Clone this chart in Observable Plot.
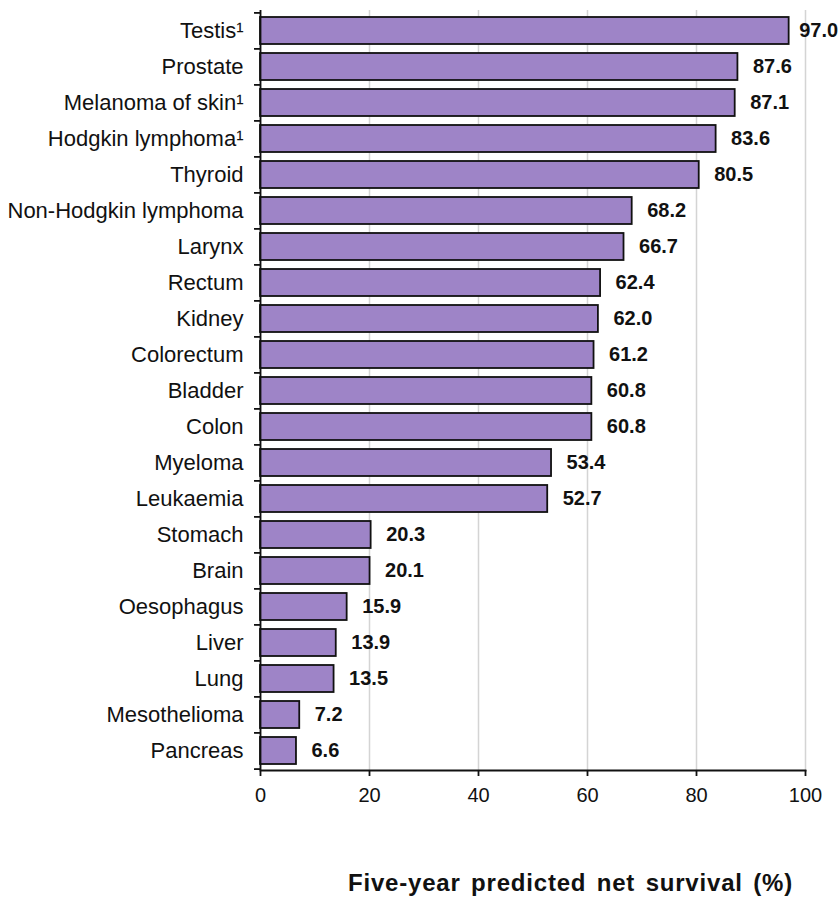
<!DOCTYPE html>
<html>
<head>
<meta charset="utf-8">
<script src="https://cdn.jsdelivr.net/npm/d3@7"></script>
<script src="https://cdn.jsdelivr.net/npm/@observablehq/plot@0.6"></script>
<style>
  html, body { margin: 0; padding: 0; background: white; }
  #wrap { position: relative; width: 840px; height: 898px; }
  #title { position: absolute; top: 869px; left: 348px; white-space: nowrap;
    font-family: "Liberation Sans", Arial, sans-serif; font-weight: bold; font-size: 24px;
    color: #111; word-spacing: 3px; letter-spacing: 0.8px; }
</style>
</head>
<body>
<div id="wrap">
  <div id="chart"></div>
  <div id="title">Five-year predicted net survival (%)</div>
</div>
<script>
const categories = ["Testis¹", "Prostate", "Melanoma of skin¹", "Hodgkin lymphoma¹", "Thyroid",
  "Non-Hodgkin lymphoma", "Larynx", "Rectum", "Kidney", "Colorectum", "Bladder", "Colon",
  "Myeloma", "Leukaemia", "Stomach", "Brain", "Oesophagus", "Liver", "Lung", "Mesothelioma", "Pancreas"];
const values = [97.0, 87.6, 87.1, 83.6, 80.5, 68.2, 66.7, 62.4, 62.0, 61.2, 60.8, 60.8,
  53.4, 52.7, 20.3, 20.1, 15.9, 13.9, 13.5, 7.2, 6.6];
const xTicks = [0, 20, 40, 60, 80, 100];

const data = categories.map((c, i) => ({category: c, value: values[i]}));

const H = 860, mTop = 10, mBottom = 90;
const step = (H - mTop - mBottom) / categories.length;

const chart = Plot.plot({
  width: 840,
  height: H,
  marginLeft: 260,
  marginRight: 35,
  marginTop: mTop,
  marginBottom: mBottom,
  style: {fontFamily: "'Liberation Sans', Arial, sans-serif", fontSize: "20px", color: "#111", background: "white"},
  x: {domain: [0, 100]},
  y: {domain: categories, paddingInner: 0.25, paddingOuter: 0.125},
  marks: [
    Plot.gridX(xTicks, {stroke: "#d4d4d4", strokeOpacity: 1, strokeWidth: 1.5}),
    Plot.barX(data, {x: "value", y: "category", fill: "#9e84c7", stroke: "#111", strokeWidth: 1.8}),
    Plot.text(data, {filter: d => d.value < 95, x: "value", y: "category", text: d => d.value.toFixed(1), textAnchor: "start",
      dx: 15, fontWeight: "bold", fontSize: 20, fill: "#111"}),
    Plot.text(data, {filter: d => d.value >= 95, x: "value", y: "category", text: d => d.value.toFixed(1), textAnchor: "start",
      dx: 10, fontWeight: "bold", fontSize: 20, fill: "#111"}),
    Plot.axisY({tickSize: 0, tickPadding: 17, label: null, fill: "#111", fontSize: 22}),
    Plot.axisY({tickSize: 6, text: null, dy: -step / 2, label: null, stroke: "#111", strokeWidth: 1.8}),
    Plot.axisY({ticks: [categories[categories.length - 1]], tickSize: 6, text: null, dy: step / 2, label: null, stroke: "#111", strokeWidth: 1.8}),
    Plot.ruleX([0], {stroke: "#111", strokeWidth: 1.8}),
    Plot.frame({anchor: "bottom", stroke: "#111", strokeWidth: 1.8}),
    Plot.axisX({ticks: xTicks, tickSize: 6, tickPadding: 11, label: null, stroke: "#111", strokeWidth: 1.8, fill: "#111", fontSize: 20})
  ]
});
document.getElementById("chart").appendChild(chart);
</script>
</body>
</html>
